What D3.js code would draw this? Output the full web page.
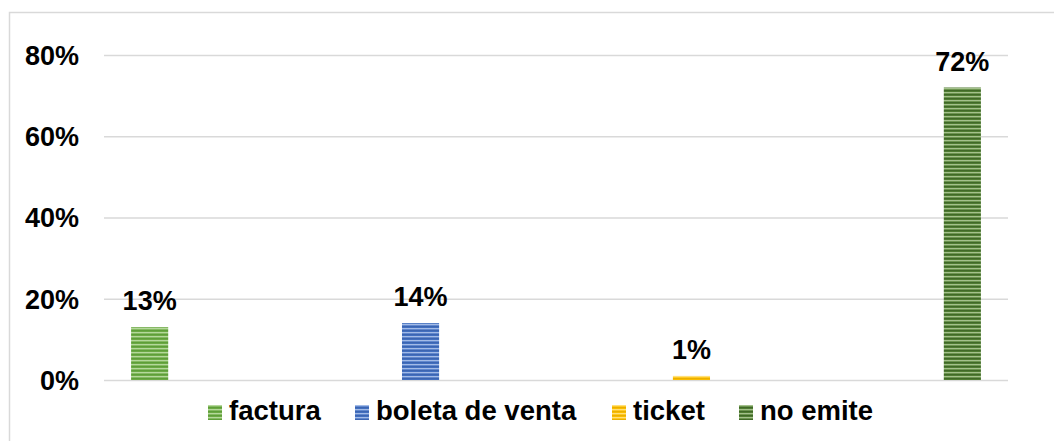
<!DOCTYPE html>
<html>
<head>
<meta charset="utf-8">
<script src="https://cdn.jsdelivr.net/npm/d3@7"></script>
<style>
  body { margin: 0; background: #fff; }
  text { font-family: Arial, "Liberation Sans", sans-serif; font-weight: bold; }
</style>
</head>
<body>
<script>
// datos del grafico
var series = ["factura", "boleta de venta", "ticket", "no emite"];
var values = [0.13, 0.14, 0.01, 0.72];
var labels = ["13%", "14%", "1%", "72%"];
var yTicks = [0, 0.2, 0.4, 0.6, 0.8];
// colores: base, claro, oscuro
var colors = [
    ["#70ad47", "#b5d89c", "#5a9a35"],
    ["#4472c4", "#a3bbe6", "#3a62ad"],
    ["#ffc000", "#ffe07a", "#e6ac00"],
    ["#548235", "#a4c08c", "#3b6224"]
];

var width = 1054, height = 441;
var x0 = 104, x1 = 1008, yTop = 55, yBottom = 380;

var svg = d3.select("body").append("svg")
    .attr("width", width)
    .attr("height", height);

// patrones rayados horizontales
var defs = svg.append("defs");
colors.forEach(function(c, i) {
    var p = defs.append("pattern")
        .attr("id", "stripe" + i)
        .attr("patternUnits", "userSpaceOnUse")
        .attr("width", 8).attr("height", 4);
    p.append("rect").attr("width", 8).attr("height", 4).attr("fill", c[0]);
    p.append("rect").attr("y", 0).attr("width", 8).attr("height", 1.3).attr("fill", c[1]);
    p.append("rect").attr("y", 2.2).attr("width", 8).attr("height", 1).attr("fill", c[2]);
});

// borde del area
svg.append("rect")
    .attr("x", 9.5).attr("y", 12.5)
    .attr("width", 1100).attr("height", 500)
    .attr("fill", "none")
    .attr("stroke", "#d9d9d9")
    .attr("stroke-width", 1.5);

var y = d3.scaleLinear().domain([0, 0.8]).range([yBottom, yTop]);
var x = d3.scaleBand().domain(series).range([x0, x1])
    .paddingInner(0.863).paddingOuter(0.1);

var yAxis = d3.axisLeft(y).tickValues(yTicks)
    .tickFormat(d3.format(".0%"))
    .tickSize(-(x1 - x0)).tickPadding(25);

var ga = svg.append("g")
    .attr("transform", "translate(" + x0 + ",0)")
    .call(yAxis);
ga.select(".domain").remove();
ga.selectAll(".tick line").attr("stroke", "#d9d9d9").attr("stroke-width", 1.3);
ga.selectAll(".tick text")
    .attr("fill", "#000")
    .style("font-size", "27px")
    .attr("dy", "0.35em");

// barras
svg.append("g").selectAll("rect")
    .data(values)
    .enter().append("rect")
    .attr("x", (d, i) => x(series[i]))
    .attr("y", d => y(d))
    .attr("width", x.bandwidth())
    .attr("height", d => y(0) - y(d))
    .attr("fill", (d, i) => "url(#stripe" + i + ")");

// etiquetas de datos
svg.append("g").selectAll("text")
    .data(values)
    .enter().append("text")
    .attr("x", (d, i) => x(series[i]) + x.bandwidth() / 2)
    .attr("y", d => y(d) - 17)
    .attr("text-anchor", "middle")
    .style("font-size", "27px")
    .attr("fill", "#000")
    .text((d, i) => labels[i]);

// leyenda
var legendX = [208, 355, 612, 739];
var lg = svg.append("g").selectAll("g")
    .data(series)
    .enter().append("g")
    .attr("transform", (d, i) => "translate(" + legendX[i] + ",405)");
lg.append("rect")
    .attr("width", 14).attr("height", 15)
    .attr("fill", (d, i) => "url(#stripe" + i + ")");
lg.append("text")
    .attr("x", 21).attr("y", 15)
    .style("font-size", "27.5px")
    .attr("fill", "#000")
    .text(d => d);
</script>
</body>
</html>
